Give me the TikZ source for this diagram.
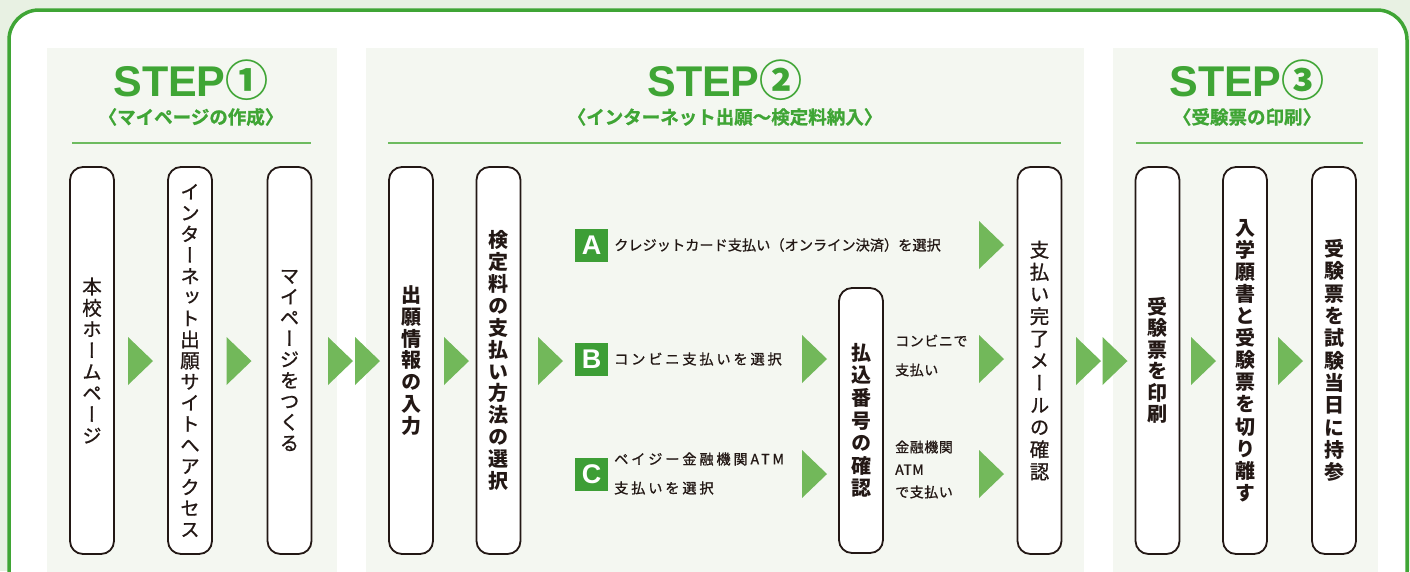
\documentclass[tikz,border=0pt]{standalone}
\usepackage{fontspec}
\setmainfont{Liberation Sans}
\newfontfamily\lsans{Liberation Sans}
\newfontfamily\jp[Script=CJK]{Noto Sans CJK JP}
\newfontfamily\jpv[Script=CJK,RawFeature=+vert]{Noto Sans CJK JP}
\newfontfamily\jpm[Script=CJK,RawFeature={embolden=0.9}]{Noto Sans CJK JP}
\newfontfamily\jpvm[Script=CJK,RawFeature={+vert;embolden=0.9}]{Noto Sans CJK JP}
\newfontfamily\jpk[Script=CJK,RawFeature={embolden=1.0}]{Noto Sans CJK JP Bold}

\definecolor{tgreen}{HTML}{3FA535}
\definecolor{sqgreen}{HTML}{3D9E36}
\definecolor{agreen}{HTML}{72B85A}
\definecolor{lgreen}{HTML}{6DBB5F}
\definecolor{panelbg}{HTML}{F4F7F1}
\definecolor{outbg}{HTML}{E8F1E3}
\definecolor{ink}{HTML}{231815}

% vertical (tategaki) stacking of characters
\newcommand\vtx[2][22]{\vbox{\baselineskip=#1pt\lineskiplimit=-40pt\lineskip=0pt\vtxl#2\relax}}
\def\vtxl#1{\ifx\relax#1\else\hbox to 24pt{\hss#1\hss}\expandafter\vtxl\fi}

\tikzset{
  stepbox/.style={draw=ink, line width=1.8pt, fill=white, rounded corners=13pt,
    minimum width=44pt, minimum height=387pt, inner sep=0pt, text=ink,
    font=\jpvm\fontsize{19.5}{21}\selectfont},
  boldbox/.style={stepbox, font=\jpv\bfseries\fontsize{20}{22}\selectfont},
  tri/.pic={\fill[agreen] (-12.5,-24) -- (12.5,0) -- (-12.5,24) -- cycle;},
  sq/.style={fill=sqgreen, minimum size=33pt, inner sep=0pt, text=white,
    font=\lsans\bfseries\fontsize{27}{27}\selectfont},
  steptitle/.style={text=tgreen, inner sep=0pt, font=\lsans\bfseries\fontsize{43}{43}\selectfont},
  stepsub/.style={text=tgreen, inner sep=0pt, font=\jpk\fontsize{18.5}{18.5}\selectfont},
  optlabel/.style={anchor=west, inner sep=0pt, text=ink, align=left},
  panel/.style={fill=panelbg},
  rule/.style={draw=lgreen, line width=2pt},
}

\begin{document}
\begin{tikzpicture}[x=1pt,y=-1pt]
\useasboundingbox (0,0) rectangle (1410,571);
\begin{scope}
\clip (0,0) rectangle (1410,571);
% background and frame
\fill[outbg] (0,0) rectangle (1410,571);
\filldraw[fill=white, draw=tgreen, line width=3.5pt, rounded corners=30pt]
  (9,640) -- (9,10) -- (1407,10) -- (1407,640);
% panels
\fill[panel] (47,48) rectangle (337,600);
\fill[panel] (366,48) rectangle (1084,600);
\fill[panel] (1113,48) rectangle (1378,600);
% headings
\node[steptitle] (s1) at (191,80) {STEP{\jp\bfseries ①}};
\node[stepsub] (s1s) at (191,117) {〈マイページの作成〉};
\node[steptitle] (s2) at (725,80) {STEP{\jp\bfseries ②}};
\node[stepsub] (s2s) at (725,117) {〈インターネット出願〜検定料納入〉};
\node[steptitle] (s3) at (1247,80) {STEP{\jp\bfseries ③}};
\node[stepsub] (s3s) at (1247,117) {〈受験票の印刷〉};
\draw[rule] (72,143) -- (311,143);
\draw[rule] (388,143) -- (1061,143);
\draw[rule] (1136,143) -- (1363,143);
% step boxes
\node[stepbox] (b1) at (92,360.5) {\vtx[21.3]{本校ホームページ}};
\node[stepbox] (b2) at (190,360.5) {\vtx[21.1]{インターネット出願サイトへアクセス}};
\node[stepbox] (b3) at (289.5,360.5) {\vtx[20.9]{マイページをつくる}};
\node[boldbox] (b4) at (411,360.5) {\vtx[21.7]{出願情報の入力}};
\node[boldbox] (b5) at (498.5,360.5) {\vtx[21.9]{検定料の支払い方法の選択}};
\node[boldbox, minimum height=265pt] (b6) at (861,420.5) {\vtx[22.6]{払込番号の確認}};
\node[stepbox] (b7) at (1039.5,360.5) {\vtx[22.2]{支払い完了メールの確認}};
\node[boldbox] (b8) at (1157.5,360.5) {\vtx[21.5]{受験票を印刷}};
\node[boldbox] (b9) at (1245,360.5) {\vtx[22.1]{入学願書と受験票を切り離す}};
\node[boldbox] (b10) at (1334,360.5) {\vtx[22.3]{受験票を試験当日に持参}};
% payment options
\node[sq] (qa) at (591.5,245) {A};
\node[sq] (qb) at (591.5,359) {B};
\node[sq] (qc) at (591.5,474) {C};
\node[optlabel, font=\jpm\fontsize{14.2}{14.2}\selectfont] (ta) at (614,245)
  {クレジットカード支払い（オンライン決済）を選択};
\node[optlabel, font=\jpm\addfontfeature{LetterSpace=20}\fontsize{14.2}{29}\selectfont] (tb) at (614,359)
  {コンビニ支払いを選択};
\node[optlabel, font=\jpm\addfontfeature{LetterSpace=20}\fontsize{14.2}{29}\selectfont] (tc) at (614,473.5)
  {ペイジー金融機関ATM\\支払いを選択};
\node[optlabel, font=\jpm\addfontfeature{LetterSpace=4}\fontsize{14}{29}\selectfont] (rb) at (895,355.5)
  {コンビニで\\支払い};
\node[optlabel, font=\jpm\addfontfeature{LetterSpace=4}\fontsize{14}{22.5}\selectfont] (rc) at (895,469.5)
  {金融機関\\ATM\\で支払い};
% arrows
\pic at (140.5,361) {tri};
\pic at (239,361) {tri};
\pic at (340.5,361) {tri};
\pic at (367.5,361) {tri};
\pic at (456.5,361) {tri};
\pic at (550.5,361) {tri};
\pic at (814.5,359) {tri};
\pic at (814.5,474) {tri};
\pic at (991.5,245) {tri};
\pic at (991.5,359) {tri};
\pic at (991.5,474) {tri};
\pic at (1088.5,361) {tri};
\pic at (1115,361) {tri};
\pic at (1203.5,361) {tri};
\pic at (1290.5,361) {tri};
\end{scope}
\end{tikzpicture}
\end{document}
